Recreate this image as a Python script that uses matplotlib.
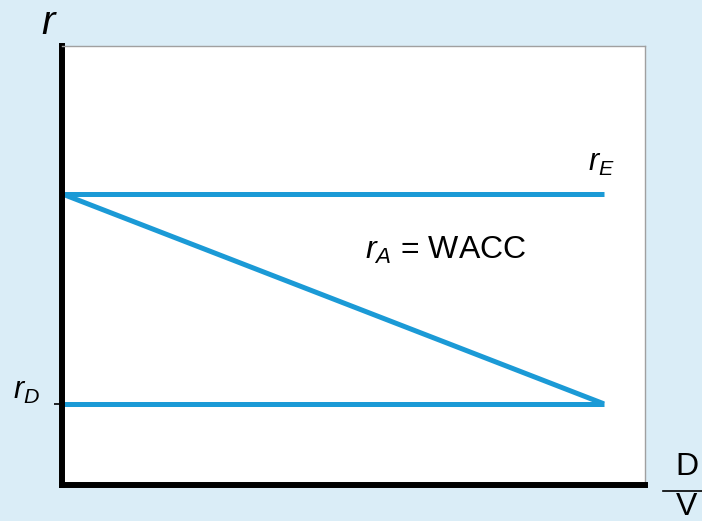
import matplotlib.pyplot as plt
from matplotlib.lines import Line2D

# dados (D/V no eixo x, r no eixo y)
d_v = [0.0, 0.93]
r_e = [0.663, 0.663]
r_d = [0.185, 0.185]
r_a = [0.663, 0.185]

fundo = '#daedf7'
azul = '#1b9ad6'

plt.rcParams['mathtext.fontset'] = 'custom'
plt.rcParams['mathtext.rm'] = 'Liberation Sans'
plt.rcParams['mathtext.it'] = 'Liberation Sans:italic'
plt.rcParams['font.family'] = 'Liberation Sans'

fig = plt.figure(figsize=(7.02, 5.21), dpi=100, facecolor=fundo)
ax = fig.add_axes([0.0883, 0.069, 0.830, 0.843])
ax.set_facecolor('white')

ax.plot(d_v, r_e, color=azul, lw=3.6, solid_capstyle='butt')
ax.plot(d_v, r_d, color=azul, lw=3.6, solid_capstyle='butt')
ax.plot(d_v, r_a, color=azul, lw=3.6, solid_capstyle='butt')

ax.set_xlim(0, 1)
ax.set_ylim(0, 1)

for lado in ['left', 'bottom']:
    ax.spines[lado].set_linewidth(4.3)
    ax.spines[lado].set_color('black')
for lado in ['top', 'right']:
    ax.spines[lado].set_linewidth(1.0)
    ax.spines[lado].set_color('#a0a0a0')

ax.set_xticks([])
ax.set_yticks([r_d[0]])
ax.set_yticklabels([])
ax.tick_params(axis='y', length=6, width=1.2, color='black')

# rótulos
ax.text(0.925, r_e[0] + 0.07, '$r_E$', fontsize=22, ha='center', va='center')
ax.text(0.52, 0.535, '$r_A$ = WACC', fontsize=23, ha='left', va='center')
fig.text(0.038, 0.25, '$r_D$', fontsize=22, ha='center', va='center')
fig.text(0.07, 0.955, '$r$', fontsize=29, ha='center', va='center')

# D/V
fig.text(0.978, 0.104, 'D', fontsize=23, ha='center', va='center')
fig.text(0.978, 0.027, 'V', fontsize=23, ha='center', va='center')
fig.add_artist(Line2D([0.945, 1.0], [0.058, 0.058], color='black', lw=1.2))

fig.savefig('out.png', dpi=100, facecolor=fundo)
